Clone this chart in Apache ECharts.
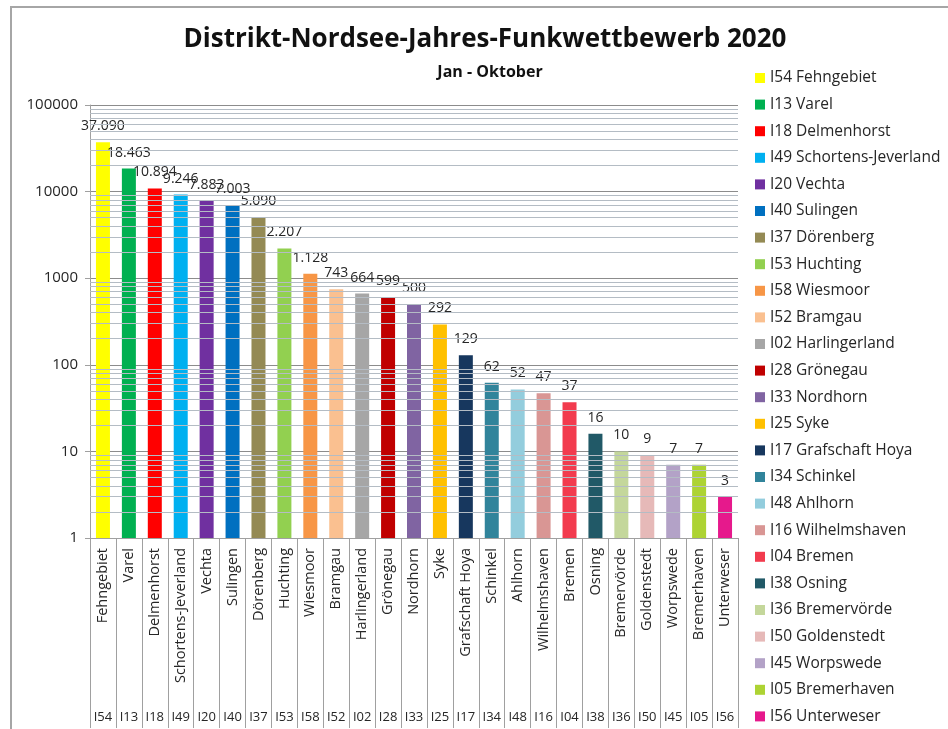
<!DOCTYPE html>
<html>
<head>
<meta charset="utf-8">
<script src="https://cdn.jsdelivr.net/npm/echarts@6/dist/echarts.min.js"></script>
<style>html,body{margin:0;padding:0;background:#fff}#c{width:948px;height:729px}</style>
</head>
<body>
<div id="c"></div>
<script>
const codes = ['I54','I13','I18','I49','I20','I40','I37','I53','I58','I52','I02','I28','I33','I25','I17','I34','I48','I16','I04','I38','I36','I50','I45','I05','I56'];
const names = ['Fehngebiet','Varel','Delmenhorst','Schortens-Jeverland','Vechta','Sulingen','Dörenberg','Huchting','Wiesmoor','Bramgau','Harlingerland','Grönegau','Nordhorn','Syke','Grafschaft Hoya','Schinkel','Ahlhorn','Wilhelmshaven','Bremen','Osning','Bremervörde','Goldenstedt','Worpswede','Bremerhaven','Unterweser'];
const values = [37090,18463,10894,9246,7883,7003,5090,2207,1128,743,664,599,500,292,129,62,52,47,37,16,10,9,7,7,3];
const colors = ['#ffff00','#00b050','#ff0000','#00b0f0','#7030a0','#0070c0','#948a54','#92d050','#f79646','#fac090','#a6a6a6','#c00000','#8064a2','#ffc000','#17375e','#31849b','#93cddd','#d99694','#f23b4e','#215967','#c4d79b','#e6b9b8','#b3a2c7','#add333','#e6198c'];
const yTicks = [1,10,100,1000,10000,100000];
const minorGrid = [2,3,4,5,6,7,8,9,20,30,40,50,60,70,80,90,200,300,400,500,600,700,800,900,2000,3000,4000,5000,6000,7000,8000,9000,20000,30000,40000,50000,60000,70000,80000,90000];

function fmt(v){ return String(v).replace(/\B(?=(\d{3})+(?!\d))/g,'.'); }

const chart = echarts.init(document.getElementById('c'));
const FONT = 'Open Sans';
const series = values.map((v,i)=>({
  name: codes[i]+' '+names[i],
  type: 'bar',
  barWidth: 14,
  barGap: '-100%',
  itemStyle: {color: colors[i]},
  label: {show: true, position: 'top', distance: 9, fontFamily: FONT, fontSize: 14, color: '#262626', formatter: p => fmt(p.value)},
  labelLayout: {moveOverlap: 'shiftY'},
  data: values.map((w,j)=> j===i ? w : '-'),
  markLine: i===0 ? {
    silent: true, symbol: 'none', label: {show:false},
    lineStyle: {color:'#b4bcc4', width:1, type:'solid'},
    data: minorGrid.map(m=>({yAxis:m}))
  } : undefined
}));

chart.setOption({
  animation: false,
  textStyle: {fontFamily: FONT},
  graphic: [
    {type:'rect', shape:{x:11,y:7,width:960,height:760}, style:{fill:'none', stroke:'#a6a6a6', lineWidth:2}, silent:true},
    {type:'text', x:485, y:40, style:{text:'Distrikt-Nordsee-Jahres-Funkwettbewerb 2020', font:'bold 26px "Open Sans"', fill:'#111', textAlign:'center', textVerticalAlign:'middle'}},
    {type:'text', x:490, y:72, style:{text:'Jan - Oktober', font:'bold 16px "Open Sans"', fill:'#111', textAlign:'center', textVerticalAlign:'middle'}}
  ],
  legend: {
    orient: 'vertical', left: 755, top: 70, height: 659, padding: 0,
    itemWidth: 10, itemHeight: 10, itemGap: 10.6,
    icon: 'rect', textStyle: {fontFamily: FONT, fontSize: 15.5, color: '#262626'},
    data: codes.map((c,i)=>c+' '+names[i])
  },
  grid: {left: 90, right: 210, top: 105, bottom: 191, containLabel: false},
  xAxis: [
    {type:'category', data: names, position:'bottom',
     axisLine:{lineStyle:{color:'#a0a0a0'}},
     axisTick:{show:true, interval:0, length:190, lineStyle:{color:'#a0a0a0'}},
     axisLabel:{interval:0, rotate:90, fontFamily:FONT, fontSize:14.5, color:'#262626', margin:10}},
    {type:'category', data: codes, position:'bottom', offset:165,
     axisLine:{show:false}, axisTick:{show:false},
     axisLabel:{interval:0, fontFamily:FONT, fontSize:13, color:'#262626', margin:8}}
  ],
  yAxis: {type:'log', logBase:10, min:1, max:100000,
    axisLine:{show:true, lineStyle:{color:'#a0a0a0'}},
    axisTick:{show:true, length:5, lineStyle:{color:'#a0a0a0'}},
    axisLabel:{fontFamily:FONT, fontSize:15, color:'#262626', margin:12, formatter: v => String(v)},
    splitLine:{show:true, lineStyle:{color:'#8c8c8c', width:1}}
  },
  series: series
});
</script>
</body>
</html>
